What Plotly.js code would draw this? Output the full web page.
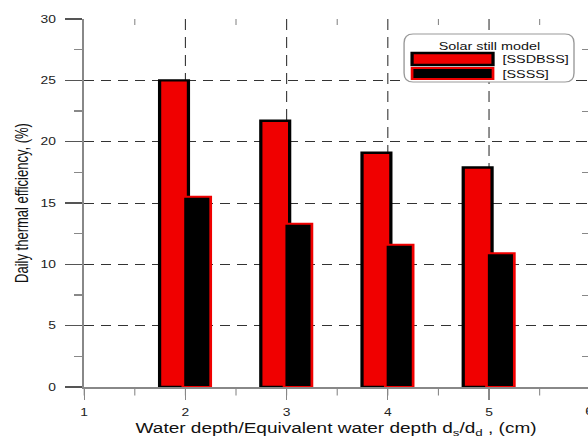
<!DOCTYPE html>
<html>
<head>
<meta charset="utf-8">
<script src="https://cdn.plot.ly/plotly-3.0.1.min.js"></script>
<style>
html,body{margin:0;padding:0;background:#fff;overflow:hidden;width:588px;height:438px;}
#chart{width:433px;height:438px;transform:scaleX(1.358);transform-origin:0 0;}
</style>
</head>
<body>
<div id="chart"></div>
<script>
var depths = [2, 3, 4, 5];
var ssdbss = [25.0, 21.7, 19.1, 17.9];
var ssss = [15.5, 13.3, 11.6, 10.9];
var seriesNames = ['[SSDBSS]', '[SSSS]'];
var legendTitle = 'Solar still model';
var xTickVals = [1, 2, 3, 4, 5, 6];
var xTickText = ['1', '2', '3', '4', '5', '6'];

// the reference picture is stretched horizontally; draw narrow and stretch the page
var S = 1.358, W = 433, H = 438, L = 84 / S, T = 19, B = 51;
var gridColor = '#333';
var lineColor = '#888';
var fam = 'Liberation Sans, Arial, sans-serif';

var traces = [
  {type: 'bar', x: depths, y: ssdbss, name: seriesNames[0], width: 0.285, offset: -0.255,
   marker: {color: '#f00000', line: {color: '#000', width: 2.4}}, showlegend: false},
  {type: 'bar', x: depths, y: ssss, name: seriesNames[1], width: 0.275, offset: -0.025,
   marker: {color: '#000', line: {color: '#f00000', width: 2}}, showlegend: false},
  {type: 'scatter', x: [1], y: [0], xaxis: 'x2', yaxis: 'y2', mode: 'markers',
   marker: {opacity: 0}, hoverinfo: 'skip', showlegend: false}
];

function px2x(p){ return (p / S - L) / (W - L); }
function px2y(p){ return (H - B - p) / (H - B - T); }
function roundRect(x0, y0, x1, y1, r){
  var rx = (r / S) / (W - L), ry = r / (H - B - T);
  var X0 = px2x(x0), X1 = px2x(x1), Y0 = px2y(y0), Y1 = px2y(y1);
  return 'M' + (X0 + rx) + ',' + Y0 + ' L' + (X1 - rx) + ',' + Y0 +
    ' Q' + X1 + ',' + Y0 + ' ' + X1 + ',' + (Y0 - ry) +
    ' L' + X1 + ',' + (Y1 + ry) + ' Q' + X1 + ',' + Y1 + ' ' + (X1 - rx) + ',' + Y1 +
    ' L' + (X0 + rx) + ',' + Y1 + ' Q' + X0 + ',' + Y1 + ' ' + X0 + ',' + (Y1 + ry) +
    ' L' + X0 + ',' + (Y0 - ry) + ' Q' + X0 + ',' + Y0 + ' ' + (X0 + rx) + ',' + Y0 + ' Z';
}

var shapes = [
  {type: 'path', xref: 'paper', yref: 'paper', path: roundRect(404, 34, 574, 82, 9),
   line: {color: '#999', width: 1}, fillcolor: '#fff'},
  {type: 'rect', xref: 'paper', yref: 'paper', x0: px2x(412), x1: px2x(493), y0: px2y(65), y1: px2y(53),
   fillcolor: '#f00000', line: {color: '#000', width: 2.4}},
  {type: 'rect', xref: 'paper', yref: 'paper', x0: px2x(412), x1: px2x(493), y0: px2y(79), y1: px2y(68),
   fillcolor: '#000', line: {color: '#f00000', width: 2}}
];

var legFont = {family: fam, size: 10.6, color: '#111'};
var tickFont = {family: fam, size: 10.2, color: '#222'};
var annotations = [
  {xref: 'paper', yref: 'paper', x: px2x(489), y: px2y(46), text: legendTitle, showarrow: false,
   xanchor: 'center', yanchor: 'middle', font: legFont},
  {xref: 'paper', yref: 'paper', x: px2x(500), y: px2y(59), text: seriesNames[0], showarrow: false,
   xanchor: 'left', yanchor: 'middle', font: legFont},
  {xref: 'paper', yref: 'paper', x: px2x(500), y: px2y(73.5), text: seriesNames[1], showarrow: false,
   xanchor: 'left', yanchor: 'middle', font: legFont},
  {xref: 'paper', yref: 'paper', x: px2x(590), y: px2y(412), text: xTickText[5], showarrow: false,
   xanchor: 'center', yanchor: 'middle', font: tickFont}
];

var layout = {
  width: W, height: H,
  margin: {l: L, r: 0, t: T, b: B},
  paper_bgcolor: '#fff', plot_bgcolor: '#fff',
  barmode: 'overlay',
  showlegend: false,
  font: tickFont,
  xaxis: {
    range: [1, 5.978], tickvals: xTickVals, ticktext: xTickText,
    showline: true, linecolor: lineColor, linewidth: 1.5,
    ticks: 'outside', ticklen: 11, tickcolor: lineColor, tickwidth: 1,
    ticklabelstandoff: 4,
    minor: {dtick: 0.5, tick0: 1, ticks: 'outside', ticklen: 7, tickcolor: lineColor, tickwidth: 0.8, showgrid: false},
    showgrid: true, gridcolor: gridColor, griddash: '11px,7px', gridwidth: 0.8,
    zeroline: false, tickfont: tickFont,
    title: {text: 'Water depth/Equivalent water depth d<sub>s</sub>/d<sub>d</sub> , (cm)',
      font: {family: fam, size: 14, color: '#111'}, standoff: 13}
  },
  xaxis2: {
    overlaying: 'x', side: 'top', range: [1, 5.978], showticklabels: false, showgrid: false,
    showline: false, ticks: '', zeroline: false,
    minor: {dtick: 0.5, tick0: 1.5, ticks: 'inside', ticklen: 6, tickcolor: lineColor, tickwidth: 0.8, showgrid: false}
  },
  yaxis: {
    range: [0, 30], dtick: 5, tick0: 0,
    showline: true, linecolor: lineColor, linewidth: 1.3,
    ticks: 'outside', ticklen: 17 / S, tickcolor: '#555', tickwidth: 1.2,
    ticklabelstandoff: 5,
    minor: {dtick: 2.5, ticks: 'outside', ticklen: 8 / S, tickcolor: lineColor, showgrid: false},
    showgrid: true, gridcolor: gridColor, griddash: '7.5px,5px', gridwidth: 1,
    zeroline: false, tickfont: tickFont,
    title: {text: 'Daily thermal efficiency, (%)',
      font: {family: fam, size: 13, color: '#111'}, standoff: 5}
  },
  yaxis2: {
    overlaying: 'y', side: 'right', range: [0, 30], showticklabels: false, showgrid: false,
    showline: false, ticks: '', zeroline: false,
    minor: {dtick: 2.5, ticks: 'inside', ticklen: 6 / S, tickcolor: lineColor, showgrid: false}
  },
  shapes: shapes,
  annotations: annotations
};

Plotly.newPlot('chart', traces, layout, {displayModeBar: false, staticPlot: true});
</script>
</body>
</html>
